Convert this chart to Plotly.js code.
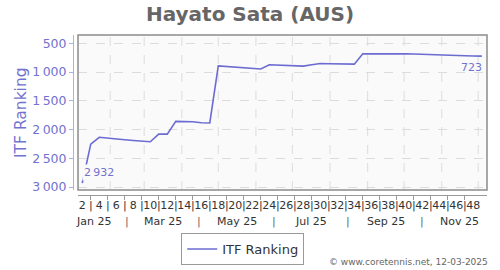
<!DOCTYPE html>
<html>
<head>
<meta charset="utf-8">
<script src="https://cdn.plot.ly/plotly-3.0.1.min.js"></script>
<style>html,body{margin:0;padding:0;background:#fff;}#chart{width:500px;height:270px;}</style>
</head>
<body>
<div id="chart"></div>
<script>
// ---- data ----
const playerTitle = 'Hayato Sata (AUS)';
const seriesName = 'ITF Ranking';
const weekNumbers = [2,3,4,5,6,7,8,9,10,11,12,13,14,15,16,17,18,19,20,21,22,23,24,25,26,27,28,29,30,31,32,33,34,35,36,37,38,39,40,41,42,43,44,45,46,47,48,49];
const weekDates = ['2025-01-09','2025-01-16','2025-01-23','2025-01-30','2025-02-06','2025-02-13','2025-02-20','2025-02-27',
  '2025-03-06','2025-03-13','2025-03-20','2025-03-27','2025-04-03','2025-04-10','2025-04-17','2025-04-24',
  '2025-05-01','2025-05-08','2025-05-15','2025-05-22','2025-05-29','2025-06-05','2025-06-12','2025-06-19',
  '2025-06-26','2025-07-03','2025-07-10','2025-07-17','2025-07-24','2025-07-31','2025-08-07','2025-08-14',
  '2025-08-21','2025-08-28','2025-09-04','2025-09-11','2025-09-18','2025-09-25','2025-10-02','2025-10-09',
  '2025-10-16','2025-10-23','2025-10-30','2025-11-06','2025-11-13','2025-11-20','2025-11-27','2025-12-04'];
const ranks = [2932,2253,2135,2152,2166,2178,2190,2196,2213,2079,2079,1858,1860,1864,1881,1886,
  893,905,914,923,930,946,872,881,888,893,897,872,850,855,858,858,862,
  683,680,678,677,675,680,685,692,696,701,704,710,715,720,723];
const yTickVals = [500,1000,1500,2000,2500,3000];
const monthLabels = ['Jan 25','Mar 25','May 25','Jul 25','Sep 25','Nov 25'];
const monthLabelDates = ['2025-01-18 12:00','2025-03-16 12:00','2025-05-16 12:00','2025-07-16 12:00','2025-09-16','2025-11-16'];
const monthSeparatorDates = ['2025-02-15','2025-04-15 12:00','2025-06-15 12:00','2025-08-16','2025-10-16'];
const monthStarts = ['2025-02-01','2025-03-01','2025-04-01','2025-05-01','2025-06-01','2025-07-01','2025-08-01','2025-09-01','2025-10-01','2025-11-01','2025-12-01'];
const creditText = '\u00a9 www.coretennis.net, 12-03-2025';

// ---- helpers ----
const fmt = v => { const s = String(v); return s.length > 3 ? s.slice(0, s.length-3) + '\u2009' + s.slice(-3) : s; };
const tickDates = weekDates.slice(0, weekNumbers.indexOf(48) + 1);
const tickText = weekNumbers.slice(0, tickDates.length).map(w => (w % 2 === 0 ? String(w) : '|'));
const oddDates = tickDates.filter((d, i) => weekNumbers[i] % 2 === 1);

const lineColor = '#6b6bd1';
const axisBlue = '#7272cf';
const xd0 = 5/414, yd0 = 5/160;

const trace = {
  x: weekDates, y: ranks, type: 'scatter', mode: 'lines', name: seriesName,
  line: {color: lineColor, width: 1.6}, hoverinfo: 'skip'
};

const shapes = monthStarts.map(d => ({
  type: 'line', xref: 'x', yref: 'paper', x0: d, x1: d, y0: yd0, y1: 1,
  line: {color: '#dcdcdc', width: 1, dash: 'dash'}, layer: 'below'
}));
shapes.push({type: 'rect', xref: 'paper', yref: 'paper', x0: xd0, x1: 1, y0: yd0, y1: 1,
  line: {color: '#8c8c8c', width: 1.5}, layer: 'above'});

const annotations = [];
monthLabels.forEach((m, i) => annotations.push({
  xref: 'x', yref: 'paper', x: monthLabelDates[i], y: -0.1625, text: m, showarrow: false,
  xanchor: 'center', yanchor: 'middle', font: {family: 'DejaVu Sans', size: 11, color: '#333'}
}));
monthSeparatorDates.forEach(d => annotations.push({
  xref: 'x', yref: 'paper', x: d, y: -0.1625, text: '|', showarrow: false,
  xanchor: 'center', yanchor: 'middle', font: {family: 'DejaVu Sans', size: 11, color: '#666'}
}));
annotations.push({
  xref: 'x', yref: 'y', x: weekDates[0], y: ranks[0], text: fmt(ranks[0]), showarrow: false,
  xanchor: 'left', yanchor: 'bottom', yshift: 2, xshift: 0, bgcolor: '#fafafa', borderpad: 1,
  font: {family: 'DejaVu Sans', size: 11, color: axisBlue}
});
const last = ranks.length - 1;
annotations.push({
  xref: 'x', yref: 'y', x: weekDates[last], y: ranks[last], text: fmt(ranks[last]), showarrow: false,
  xanchor: 'right', yanchor: 'top', yshift: -3, xshift: 2,
  font: {family: 'DejaVu Sans', size: 11, color: axisBlue}
});
annotations.push({
  xref: 'paper', yref: 'paper', x: (21 - 73) / 414, y: (195 - 113) / 160, text: seriesName, showarrow: false,
  textangle: -90, xanchor: 'center', yanchor: 'middle', font: {family: 'DejaVu Sans', size: 15.5, color: axisBlue}
});
annotations.push({
  xref: 'paper', yref: 'paper', x: 1.007, y: -0.419, text: creditText, showarrow: false,
  xanchor: 'right', yanchor: 'middle', font: {family: 'DejaVu Sans', size: 9, color: '#666'}
});

const layout = {
  width: 500, height: 270,
  margin: {l: 73, r: 13, t: 35, b: 75, pad: 0, autoexpand: false},
  paper_bgcolor: '#ffffff', plot_bgcolor: '#fafafa',
  font: {family: 'DejaVu Sans', color: '#333'},
  title: {text: '<b>' + playerTitle + '</b>', x: 0.5, xref: 'container', y: 1 - 14/270, yref: 'container',
    xanchor: 'center', yanchor: 'middle', font: {family: 'DejaVu Sans', size: 20, color: '#666'}},
  xaxis: {
    type: 'date', domain: [xd0, 1], anchor: 'free', position: 0, automargin: false,
    range: ['2025-01-05 12:00', '2025-12-08 06:00'], autorange: false, fixedrange: true,
    tickmode: 'array', tickvals: tickDates, ticktext: tickText, ticks: '', tickangle: 0, ticklabelstandoff: 0,
    tickfont: {family: 'DejaVu Sans', size: 11, color: '#333'},
    showgrid: false, zeroline: false, showline: true, linecolor: '#999', linewidth: 1,
    minor: {tickmode: 'array', tickvals: oddDates, ticks: 'outside', ticklen: 4, tickcolor: '#999', tickwidth: 1, showgrid: false}
  },
  yaxis: {
    domain: [yd0, 1], anchor: 'free', position: 0, automargin: false,
    range: [3052, 355], autorange: false, fixedrange: true,
    tickmode: 'array', tickvals: yTickVals, ticktext: yTickVals.map(fmt),
    ticks: 'outside', ticklen: 4, tickcolor: '#b0b0e0',
    tickfont: {family: 'DejaVu Sans', size: 12.5, color: axisBlue},
    showline: true, linecolor: '#b0b0e0', linewidth: 1,
    showgrid: true, gridcolor: '#dcdcdc', griddash: 'dash', gridwidth: 1, zeroline: false
  },
  showlegend: true,
  legend: {orientation: 'h', x: 0.41, xanchor: 'center', y: -0.2375, yanchor: 'top',
    bordercolor: '#999', borderwidth: 1, bgcolor: '#fff', itemwidth: 30,
    font: {family: 'DejaVu Sans', size: 13, color: '#333'}},
  shapes: shapes,
  annotations: annotations
};

Plotly.newPlot('chart', [trace], layout, {displayModeBar: false, staticPlot: true});
</script>
</body>
</html>
